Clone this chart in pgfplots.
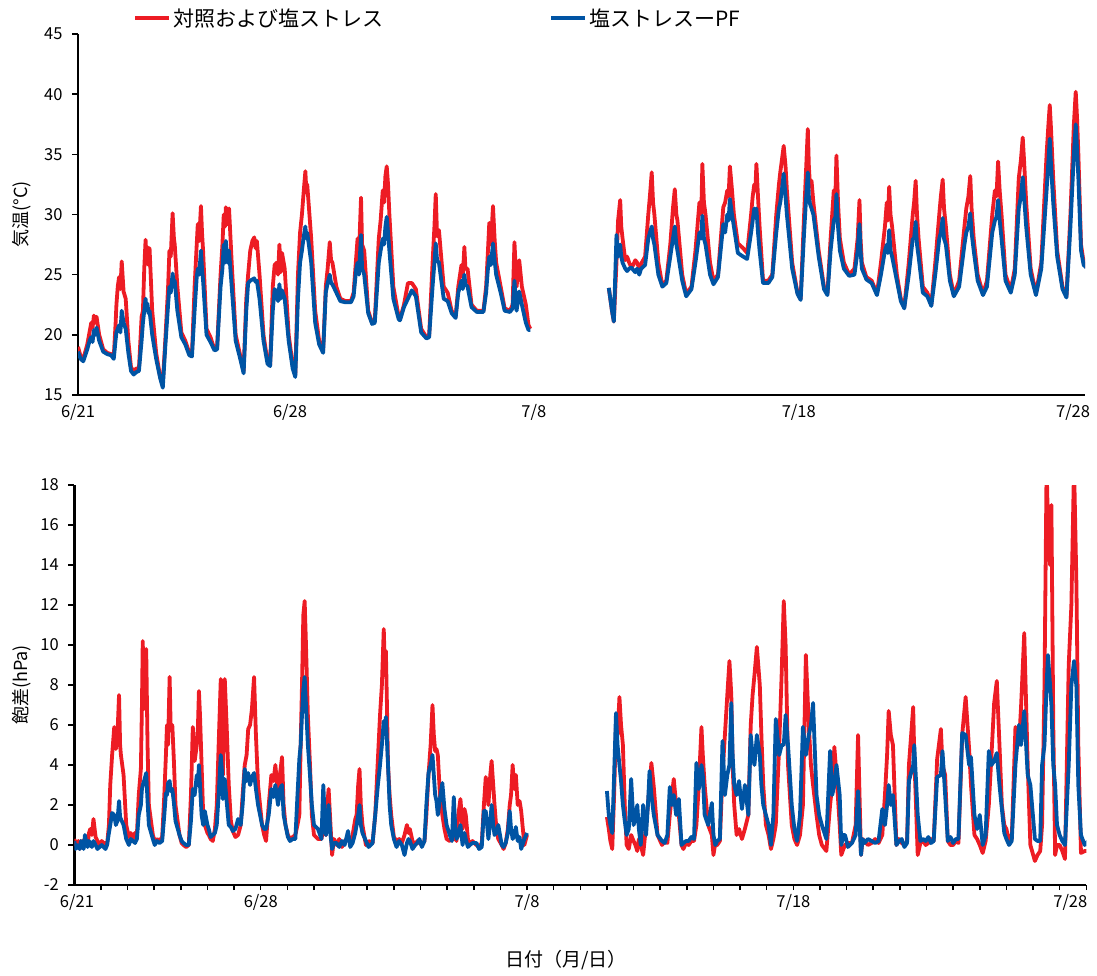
\documentclass[border=0pt]{standalone}
\usepackage{fontspec}
\setmainfont{Noto Sans CJK JP}
\usepackage{pgfplots}
\usepackage{pgfplotstable}
\pgfplotsset{compat=1.18}
\definecolor{serred}{RGB}{237,28,36}
\definecolor{serblue}{RGB}{0,84,164}

% day offset from 6/21, control+salt, salt-PF
\pgfplotstableread{
d red blue
0.00 19.0 18.6
0.10 18.2 18.0
0.20 18.0 17.8
0.35 19.2 18.8
0.45 20.4 19.6
0.50 21.0 19.8
0.55 20.6 19.4
0.60 21.6 20.4
0.65 21.0 20.0
0.70 21.5 20.6
0.80 20.0 19.5
0.95 18.8 18.6
1.10 18.5 18.4
1.25 18.4 18.3
1.35 18.2 18.0
1.42 21.0 19.6
1.45 22.5 20.2
1.50 24.0 20.5
1.55 24.8 20.8
1.60 23.8 20.2
1.65 26.1 22.0
1.72 23.6 21.0
1.80 23.0 20.5
1.90 19.5 18.5
2.00 17.3 17.0
2.10 17.0 16.7
2.20 17.2 16.9
2.30 17.2 17.0
2.40 21.5 19.5
2.45 22.0 21.0
2.50 25.5 22.0
2.55 27.9 23.0
2.58 26.0 22.2
2.62 27.3 22.6
2.66 25.8 21.8
2.70 27.2 22.0
2.80 22.0 20.0
2.95 18.5 18.0
3.10 16.5 16.4
3.20 16.0 15.6
3.30 19.8 19.2
3.40 24.0 22.5
3.45 27.0 24.0
3.50 26.5 23.5
3.57 30.1 25.1
3.62 28.0 24.2
3.65 27.5 24.5
3.75 24.0 22.0
3.90 20.2 19.8
4.05 19.5 19.2
4.20 18.5 18.3
4.30 18.4 18.2
4.40 24.0 22.0
4.48 27.5 24.8
4.52 29.2 25.5
4.57 27.8 25.0
4.64 30.7 27.0
4.68 28.5 25.5
4.72 27.0 24.5
4.85 20.5 20.0
5.00 19.8 19.4
5.15 18.8 18.7
5.25 19.0 18.8
5.38 25.0 24.0
5.45 27.5 25.5
5.50 30.0 27.5
5.55 29.0 26.0
5.58 30.6 27.8
5.64 29.2 26.0
5.70 30.5 27.0
5.80 26.0 24.0
5.95 20.0 19.5
6.10 18.5 18.2
6.25 17.0 16.8
6.35 23.0 22.0
6.42 25.0 24.3
6.50 27.0 24.5
6.58 27.8 24.6
6.65 28.1 24.7
6.70 27.2 24.4
6.75 27.8 24.5
6.85 25.0 23.0
7.00 20.0 19.5
7.15 17.8 17.6
7.25 17.5 17.4
7.35 24.0 22.0
7.42 25.8 23.8
7.50 26.0 23.5
7.55 25.0 22.8
7.60 27.5 24.2
7.65 25.2 23.0
7.70 26.8 23.7
7.80 25.5 23.0
7.95 20.0 19.5
8.10 17.5 17.2
8.20 16.7 16.5
8.30 25.0 23.0
8.38 28.5 26.0
8.45 30.0 27.0
8.52 32.0 28.2
8.58 33.6 29.0
8.62 31.8 28.0
8.65 32.5 28.5
8.80 28.0 26.0
8.95 22.0 21.0
9.10 19.5 19.2
9.25 18.7 18.5
9.35 24.0 23.5
9.42 25.5 24.3
9.50 27.7 25.0
9.55 26.2 24.3
9.60 26.0 24.2
9.75 24.0 23.5
9.90 23.0 22.8
10.10 22.8 22.7
10.30 22.8 22.7
10.40 23.5 23.2
10.50 26.5 25.5
10.55 28.0 26.0
10.60 26.5 25.0
10.68 31.4 28.3
10.72 27.5 25.5
10.80 27.0 25.0
10.95 22.0 21.8
11.10 21.0 20.9
11.20 21.2 21.0
11.35 28.0 26.0
11.42 29.5 27.0
11.50 32.0 28.0
11.55 31.0 27.5
11.60 33.2 29.0
11.65 34.0 29.8
11.70 32.5 28.5
11.75 30.0 27.0
11.90 24.0 23.0
12.10 21.5 21.3
12.15 21.3 21.2
12.30 22.5 22.3
12.45 24.3 23.0
12.60 24.3 23.7
12.75 23.8 23.2
12.95 20.5 20.2
13.15 19.8 19.7
13.25 19.9 19.8
13.38 26.0 24.0
13.45 29.0 26.0
13.50 31.7 27.6
13.55 28.2 26.2
13.62 28.7 26.0
13.80 24.0 23.0
13.95 23.5 22.8
14.10 22.0 21.8
14.25 21.5 21.4
14.35 24.0 23.5
14.47 25.8 24.5
14.52 24.8 23.8
14.58 27.3 25.0
14.62 25.5 24.2
14.70 25.5 24.0
14.85 22.5 22.3
15.05 22.0 21.9
15.30 22.0 21.9
15.40 24.0 23.5
15.47 27.0 25.5
15.52 29.3 26.5
15.58 27.5 25.8
15.66 30.7 27.6
15.72 28.0 26.2
15.78 26.0 25.0
15.95 24.0 23.5
16.10 22.2 22.0
16.30 22.0 21.9
16.40 22.5 22.2
16.47 27.7 24.5
16.55 24.0 22.0
16.65 26.2 23.6
16.75 24.0 22.5
16.90 22.5 21.0
17.00 20.8 20.4
17.07 20.5 20.4
17.50 nan nan
20.03 23.9 23.9
20.15 22.0 22.0
20.22 21.1 21.1
20.32 26.0 28.3
20.38 29.5 26.5
20.46 31.2 27.5
20.50 29.0 26.5
20.55 28.0 26.0
20.65 26.2 25.5
20.72 26.5 25.3
20.80 26.0 25.5
20.88 25.6 25.6
20.95 25.8 25.4
21.03 26.2 25.2
21.10 26.0 25.5
21.18 25.5 25.0
21.25 25.9 25.5
21.40 26.5 25.8
21.52 30.0 28.0
21.58 31.5 28.5
21.65 33.5 29.0
21.70 31.0 28.0
21.75 30.0 27.5
21.90 26.0 25.0
22.05 24.1 24.0
22.20 24.5 24.3
22.35 27.5 26.5
22.45 30.5 28.0
22.52 32.1 29.0
22.58 30.0 27.5
22.62 29.5 27.0
22.80 25.0 24.5
22.95 23.4 23.2
23.15 24.0 23.8
23.30 27.0 26.0
23.45 31.0 28.5
23.52 30.0 28.0
23.56 34.2 29.9
23.62 31.0 28.0
23.68 30.0 27.5
23.85 26.0 25.0
23.98 24.5 24.2
24.15 25.0 24.8
24.35 30.6 29.2
24.42 31.0 28.5
24.50 32.0 30.0
24.55 31.5 29.5
24.60 34.0 31.3
24.68 32.0 30.0
24.75 30.0 29.0
24.90 27.6 26.8
25.10 27.2 26.5
25.25 26.8 26.3
25.40 30.0 28.5
25.46 31.5 29.5
25.52 32.5 30.5
25.56 32.0 29.8
25.60 34.2 30.5
25.66 31.5 28.5
25.72 29.0 27.0
25.85 24.5 24.3
26.05 24.5 24.3
26.20 25.0 24.8
26.35 30.0 28.5
26.45 32.5 30.5
26.50 33.5 31.0
26.56 34.5 32.0
26.63 35.7 33.4
26.70 34.0 31.5
26.75 32.0 30.0
26.95 26.0 25.5
27.15 23.5 23.4
27.27 23.0 22.9
27.40 30.0 28.5
27.48 34.0 31.5
27.54 37.1 33.5
27.58 34.0 31.5
27.62 32.5 30.9
27.68 32.8 30.5
27.75 31.0 30.0
27.95 27.0 26.5
28.15 24.0 23.8
28.28 23.4 23.3
28.40 28.0 27.0
28.52 32.0 29.5
28.58 31.5 29.8
28.62 34.9 31.7
28.68 31.0 29.0
28.75 28.0 27.0
28.90 26.0 25.5
29.10 25.0 24.9
29.30 25.5 25.0
29.42 28.0 27.0
29.49 31.2 29.2
29.53 28.0 27.0
29.58 26.0 25.5
29.75 24.8 24.6
29.95 24.5 24.3
30.15 23.4 23.3
30.30 26.0 25.0
30.45 29.0 27.0
30.52 31.0 27.5
30.56 29.5 26.8
30.61 32.3 28.7
30.66 30.0 27.0
30.72 29.0 26.5
30.90 25.0 24.5
31.05 23.0 22.8
31.18 22.3 22.2
31.35 26.0 25.0
31.50 30.0 28.0
31.55 31.0 28.0
31.61 32.8 29.4
31.66 30.0 27.5
31.72 28.0 26.5
31.88 24.0 23.5
32.05 23.5 23.2
32.20 22.5 22.4
32.35 26.0 25.0
32.50 30.0 28.0
32.56 31.5 28.5
32.63 32.9 29.7
32.68 30.5 28.0
32.75 29.0 27.5
32.90 25.0 24.5
33.05 23.3 23.2
33.25 24.5 24.0
33.45 29.0 27.5
33.52 30.5 28.5
33.60 31.5 29.0
33.67 33.2 30.1
33.72 30.5 28.5
33.80 28.0 27.0
33.95 25.0 24.5
34.15 23.4 23.3
34.30 24.5 24.0
34.50 30.0 28.5
34.60 32.0 29.5
34.66 31.5 29.8
34.72 34.4 31.2
34.78 32.0 29.5
34.85 30.0 28.0
35.00 25.0 24.5
35.20 23.7 23.5
35.35 25.5 25.0
35.50 33.0 30.5
35.58 34.5 31.5
35.65 36.4 33.1
35.70 34.5 31.5
35.78 31.0 29.0
35.95 25.5 25.0
36.15 23.4 23.3
36.35 26.0 25.5
36.55 35.0 32.0
36.62 37.5 34.5
36.67 39.1 36.3
36.72 37.0 34.0
36.80 33.0 31.0
36.95 27.0 26.5
37.15 24.0 23.8
37.30 23.2 23.1
37.45 30.0 29.0
37.58 37.5 35.0
37.65 40.2 37.5
37.70 38.0 35.5
37.75 35.0 33.0
37.85 27.5 27.0
37.95 26.0 25.8
38.05 25.6 25.6
}\tempdata

\pgfplotstableread{
d red blue
0.00 0.3 0.2
0.05 0.0 -0.2
0.10 0.1 0.0
0.15 0.2 -0.1
0.20 -0.2 -0.2
0.25 0.1 0.2
0.30 0.2 0.1
0.35 0.0 -0.2
0.40 0.3 0.5
0.45 0.2 0.1
0.50 0.0 -0.1
0.55 0.6 0.2
0.60 0.8 0.1
0.66 0.5 -0.1
0.72 1.3 0.2
0.80 0.4 0.0
0.87 0.2 -0.2
0.95 0.0 -0.1
1.03 0.2 0.0
1.10 0.1 -0.1
1.17 0.1 -0.2
1.23 0.0 0.0
1.30 1.0 0.6
1.35 3.0 1.0
1.42 4.5 1.6
1.50 5.9 1.5
1.56 4.8 1.0
1.62 5.5 1.2
1.68 7.5 2.2
1.72 5.0 1.4
1.75 4.5 1.3
1.85 3.5 1.0
1.95 1.0 0.3
2.05 0.4 0.0
2.12 0.6 0.3
2.20 0.3 0.2
2.28 0.6 0.1
2.35 0.5 0.3
2.42 2.5 1.5
2.50 3.8 2.0
2.54 7.0 2.8
2.57 10.2 3.0
2.62 6.8 3.2
2.66 9.5 3.4
2.70 9.8 3.6
2.75 5.0 2.2
2.80 2.0 1.0
2.95 0.5 0.3
3.02 0.2 0.0
3.10 0.3 0.2
3.20 0.2 0.1
3.30 0.4 0.2
3.38 2.5 1.5
3.44 4.5 2.6
3.48 6.0 2.5
3.52 5.0 3.1
3.58 8.4 3.2
3.62 5.8 2.7
3.68 6.0 2.8
3.74 4.2 2.1
3.80 2.0 1.2
3.95 0.5 0.5
4.03 0.1 0.2
4.10 0.0 0.1
4.20 -0.1 0.0
4.30 0.0 0.0
4.38 2.5 1.2
4.45 5.9 2.8
4.52 4.2 2.5
4.60 5.0 3.5
4.64 5.8 3.0
4.68 7.7 4.0
4.72 6.5 3.0
4.78 4.0 1.5
4.84 1.5 1.0
4.90 1.0 1.7
5.00 0.6 1.0
5.05 0.5 0.8
5.12 0.3 0.4
5.20 0.2 0.5
5.28 0.8 0.6
5.35 2.0 1.0
5.42 5.0 2.5
5.50 8.3 4.5
5.54 6.5 3.8
5.58 3.5 2.3
5.65 8.3 3.3
5.72 6.0 2.2
5.80 3.0 1.0
5.88 1.2 0.9
5.95 0.7 0.7
6.05 0.4 0.8
6.15 0.5 1.3
6.25 1.0 1.0
6.32 2.5 2.0
6.40 4.0 3.8
6.47 4.5 3.2
6.53 5.8 3.6
6.60 6.0 3.0
6.67 6.8 3.4
6.75 8.4 3.6
6.82 5.5 2.8
6.90 3.0 2.0
7.05 1.0 1.0
7.13 0.5 0.8
7.20 0.2 0.8
7.30 2.0 1.5
7.40 3.5 2.8
7.48 3.2 2.4
7.55 4.0 3.0
7.65 2.5 2.0
7.72 3.5 2.8
7.80 4.4 3.0
7.86 2.0 1.5
7.93 1.0 1.0
8.02 0.5 0.4
8.10 0.3 0.2
8.20 0.4 0.3
8.30 0.5 0.3
8.38 1.0 2.5
8.45 1.5 4.3
8.50 5.0 5.0
8.55 8.0 6.5
8.60 11.5 7.8
8.65 12.2 8.4
8.70 10.0 7.0
8.77 6.5 5.0
8.85 4.0 3.5
8.92 1.5 2.0
9.00 0.5 1.0
9.15 0.3 0.8
9.28 0.3 0.3
9.35 0.8 3.0
9.40 0.6 1.5
9.45 0.5 0.5
9.50 2.0 1.0
9.55 2.8 2.0
9.62 1.0 0.5
9.68 -0.5 -0.2
9.75 0.3 0.1
9.85 0.0 0.1
9.95 0.3 -0.1
10.05 -0.1 0.2
10.15 0.2 0.0
10.28 0.3 0.7
10.36 0.1 -0.1
10.45 0.5 0.1
10.55 1.3 0.6
10.60 1.5 1.0
10.66 3.0 1.5
10.71 3.8 2.0
10.76 2.0 1.0
10.82 1.0 0.6
10.95 0.0 0.2
11.05 0.2 -0.1
11.20 0.1 0.1
11.30 1.5 1.5
11.40 4.3 3.0
11.48 6.5 4.0
11.55 8.0 5.0
11.62 10.8 6.2
11.66 9.0 5.8
11.70 9.7 6.4
11.74 7.0 5.2
11.78 4.0 4.0
11.84 2.5 2.0
11.90 1.5 1.0
12.00 0.4 0.3
12.10 0.2 -0.1
12.20 0.3 0.2
12.30 0.1 0.0
12.40 0.5 -0.5
12.49 1.0 0.1
12.55 0.6 0.3
12.60 0.8 0.2
12.70 0.2 -0.2
12.80 0.0 0.0
12.88 0.2 0.1
12.96 0.1 0.3
13.05 0.0 -0.1
13.15 0.2 0.2
13.22 1.5 2.0
13.30 3.5 3.6
13.38 5.0 4.0
13.45 7.0 4.5
13.50 5.5 3.5
13.55 4.7 2.5
13.60 4.8 2.2
13.65 4.5 1.5
13.73 2.5 2.3
13.82 1.5 3.1
13.90 0.8 1.8
13.98 0.3 1.0
14.10 0.2 0.5
14.18 0.3 0.2
14.25 0.3 2.4
14.30 0.5 1.0
14.35 0.2 0.3
14.42 1.5 0.5
14.50 2.3 1.0
14.58 0.8 0.0
14.65 1.8 0.6
14.70 1.5 0.3
14.78 0.3 -0.1
14.85 0.0 0.0
14.95 0.2 0.1
15.10 0.0 0.1
15.20 -0.1 -0.2
15.30 0.1 -0.1
15.38 2.0 1.7
15.45 3.4 1.7
15.55 2.0 0.3
15.62 3.5 1.2
15.67 4.2 2.0
15.73 3.0 1.0
15.78 2.0 0.5
15.85 0.8 0.6
15.92 0.3 1.0
16.05 0.0 0.0
16.12 -0.2 -0.1
16.20 0.1 0.1
16.28 0.8 0.6
16.35 2.0 1.7
16.40 2.5 0.8
16.46 4.0 0.3
16.52 2.8 0.5
16.58 3.5 0.9
16.65 2.0 0.2
16.72 2.2 0.4
16.78 1.7 -0.2
16.90 0.0 0.3
17.00 0.5 0.6
17.50 nan nan
20.00 1.4 2.7
20.07 0.8 1.5
20.13 0.2 1.0
20.20 -0.2 0.6
20.27 2.5 3.5
20.34 6.0 6.6
20.40 5.5 5.0
20.47 7.4 4.0
20.53 6.0 3.2
20.60 5.0 2.0
20.67 2.0 1.2
20.74 0.0 0.5
20.82 -0.2 0.8
20.91 0.5 3.3
21.00 0.2 1.0
21.07 0.0 1.3
21.14 -0.3 2.0
21.20 0.3 0.8
21.27 0.0 0.0
21.36 -0.5 2.0
21.47 1.0 0.5
21.54 2.0 2.0
21.60 3.0 3.7
21.67 4.1 2.5
21.76 2.9 1.5
21.90 0.5 0.5
22.07 0.0 0.2
22.17 0.2 0.1
22.27 0.1 0.5
22.36 1.5 2.9
22.44 2.5 2.0
22.51 3.3 2.5
22.60 2.0 1.5
22.70 1.5 2.3
22.80 0.0 0.0
22.87 -0.2 0.1
22.97 0.1 0.2
23.07 0.0 0.2
23.17 0.2 0.4
23.27 0.2 0.3
23.36 1.0 4.1
23.45 3.0 2.8
23.55 5.9 4.0
23.60 4.5 3.5
23.67 3.0 1.5
23.80 1.0 1.0
23.94 0.5 2.1
24.00 -0.5 0.5
24.07 0.1 0.0
24.14 0.0 0.2
24.24 0.2 0.3
24.34 3.5 5.2
24.43 5.5 2.5
24.52 7.5 3.5
24.60 9.2 4.0
24.67 7.5 7.1
24.72 4.0 4.5
24.78 2.0 3.0
24.87 0.5 2.5
24.96 0.8 3.2
25.07 0.3 1.8
25.18 0.8 3.0
25.31 1.5 1.5
25.40 6.0 5.5
25.47 7.5 4.5
25.54 8.5 4.0
25.63 9.9 5.5
25.74 8.0 4.5
25.80 5.5 3.0
25.87 3.0 2.0
25.97 1.0 1.5
26.07 0.5 1.0
26.16 -0.2 0.0
26.25 0.3 1.5
26.34 1.0 6.3
26.47 5.0 4.5
26.56 8.5 5.0
26.64 12.2 5.0
26.71 10.0 6.5
26.80 4.0 5.0
26.94 1.0 2.0
27.04 0.3 0.8
27.14 0.0 0.2
27.25 0.5 1.5
27.36 2.0 5.9
27.47 9.5 4.5
27.58 6.0 5.5
27.66 4.0 6.0
27.74 3.0 7.1
27.87 1.5 2.5
27.97 0.5 1.5
28.07 0.0 1.0
28.24 -0.3 0.3
28.38 2.0 4.7
28.46 3.0 2.5
28.54 4.9 3.0
28.62 3.5 4.0
28.74 1.0 2.5
28.80 -0.5 0.0
28.88 -0.2 0.5
28.94 0.0 0.5
29.05 0.1 -0.1
29.20 0.1 0.1
29.34 1.0 0.5
29.43 5.5 2.7
29.54 -0.5 -0.5
29.60 0.3 0.3
29.67 0.2 0.1
29.80 0.0 0.3
29.94 0.1 0.2
30.07 0.3 0.1
30.20 0.1 0.2
30.34 0.5 1.8
30.44 2.5 1.0
30.52 4.5 2.0
30.58 6.7 3.0
30.66 5.5 2.0
30.74 5.0 2.5
30.87 0.0 0.0
30.97 0.3 0.2
31.07 0.1 0.3
31.17 0.0 -0.1
31.27 0.2 0.1
31.34 4.0 3.2
31.50 6.9 4.0
31.54 4.5 5.0
31.67 -0.5 1.5
31.77 0.1 0.2
31.87 0.2 0.3
31.97 0.0 0.2
32.07 0.1 0.4
32.17 0.3 0.1
32.27 0.2 0.2
32.40 4.3 3.4
32.54 5.8 3.5
32.60 4.0 4.7
32.70 3.5 2.5
32.80 0.2 0.2
32.90 0.0 0.4
33.00 0.0 0.1
33.10 0.2 0.3
33.20 0.1 0.3
33.34 5.5 5.6
33.47 7.4 5.5
33.60 4.8 4.0
33.67 3.0 4.4
33.80 0.5 1.5
33.90 0.3 0.8
34.00 0.0 1.5
34.11 -0.4 0.0
34.22 0.2 0.5
34.34 2.0 4.7
34.44 4.5 4.0
34.54 7.1 4.2
34.64 8.2 4.6
34.74 5.0 3.0
34.83 2.0 1.8
34.92 1.0 0.6
35.00 0.8 0.3
35.10 0.2 0.0
35.20 0.3 0.2
35.34 5.9 4.0
35.47 5.0 6.0
35.55 6.9 5.0
35.67 10.6 6.7
35.80 4.0 3.5
35.90 0.0 3.0
36.07 -0.8 0.3
36.17 -0.5 0.2
36.27 -0.3 0.2
36.34 1.0 4.0
36.43 8.0 5.0
36.51 19.0 8.0
36.56 16.0 9.5
36.64 14.0 8.0
36.69 17.0 7.0
36.76 6.0 4.0
36.83 -0.5 3.0
36.90 0.0 1.0
37.00 0.0 0.5
37.10 -0.3 0.2
37.20 -0.7 0.0
37.34 9.0 4.0
37.44 12.0 8.0
37.54 19.0 9.2
37.63 13.0 7.9
37.70 5.0 3.0
37.80 -0.4 0.5
37.94 -0.3 0.0
38.07 -0.3 0.2
}\vpddata

\pgfplotsset{
  panel/.style={
    scale only axis,
    axis lines=left,
    axis line style={-, line width=2.5pt},
    xmin=0, xmax=38,
    tick align=outside,
    every tick/.style={black, line width=1.5pt},
    major tick length=6pt,
    minor tick length=5pt,
    unbounded coords=jump,
    tick label style={font=\fontsize{16.5}{18}\selectfont},
    yticklabel style={xshift=-6pt},
    /pgf/number format/assume math mode=true,
  },
  sred/.style={color=serred, line width=3.8pt, line join=round},
  sblue/.style={color=serblue, line width=3.8pt, line join=round},
}

\begin{document}
\begin{tikzpicture}
\useasboundingbox (0,0) rectangle (1097pt,-976pt);

\begin{axis}[panel,
  at={(78pt,-34pt)}, anchor=north west,
  width=1007pt, height=361pt,
  ymin=15, ymax=45, ytick={15,20,...,45},
  xtick={0,8,17.2,27.2,37.55},
  xticklabels={6/21,6/28,7/8,7/18,7/28},
  x tick style={draw=none},
  ylabel={気温(°C)},
  every axis y label/.style={at={(axis description cs:-0.0556,0.5)}, rotate=90, anchor=center,
    font=\fontsize{18}{20}\selectfont},
  legend columns=2,
  legend style={draw=none, fill=none, at={(axis description cs:0.0546,1.044)}, anchor=west,
    inner xsep=0pt, font=\fontsize{21}{23}\selectfont,
    /tikz/every even column/.append style={column sep=164pt}},
  legend image code/.code={\draw[#1, line width=4pt] (0pt,0pt) -- (34pt,0pt);},
]
\addplot[sred] table[x=d, y=red] {\tempdata};
\addlegendentry{対照および塩ストレス}
\addplot[sblue] table[x=d, y=blue] {\tempdata};
\addlegendentry{塩ストレスーPF}
\end{axis}

\begin{axis}[panel,
  at={(74.3pt,-485pt)}, anchor=north west,
  width=1012pt, height=400pt,
  ymin=-2, ymax=18, ytick={-2,0,...,18},
  xtick={0.1,7,17,27,37.4},
  xticklabels={6/21,6/28,7/8,7/18,7/28},
  x tick style={draw=none},
  extra x ticks={1,2,...,38},
  extra x tick labels={},
  extra x tick style={x tick style={draw=black, line width=1.5pt}, major tick length=5pt},
  ylabel={飽差(hPa)},
  every axis y label/.style={at={(axis description cs:-0.0517,0.5)}, rotate=90, anchor=center,
    font=\fontsize{18}{20}\selectfont},
  xlabel={日付（月/日）},
  every axis x label/.style={at={(axis description cs:0.486,-0.1875)}, anchor=center,
    font=\fontsize{19}{21}\selectfont},
]
\addplot[sred] table[x=d, y=red] {\vpddata};
\addplot[sblue] table[x=d, y=blue] {\vpddata};
\end{axis}
\end{tikzpicture}
\end{document}
